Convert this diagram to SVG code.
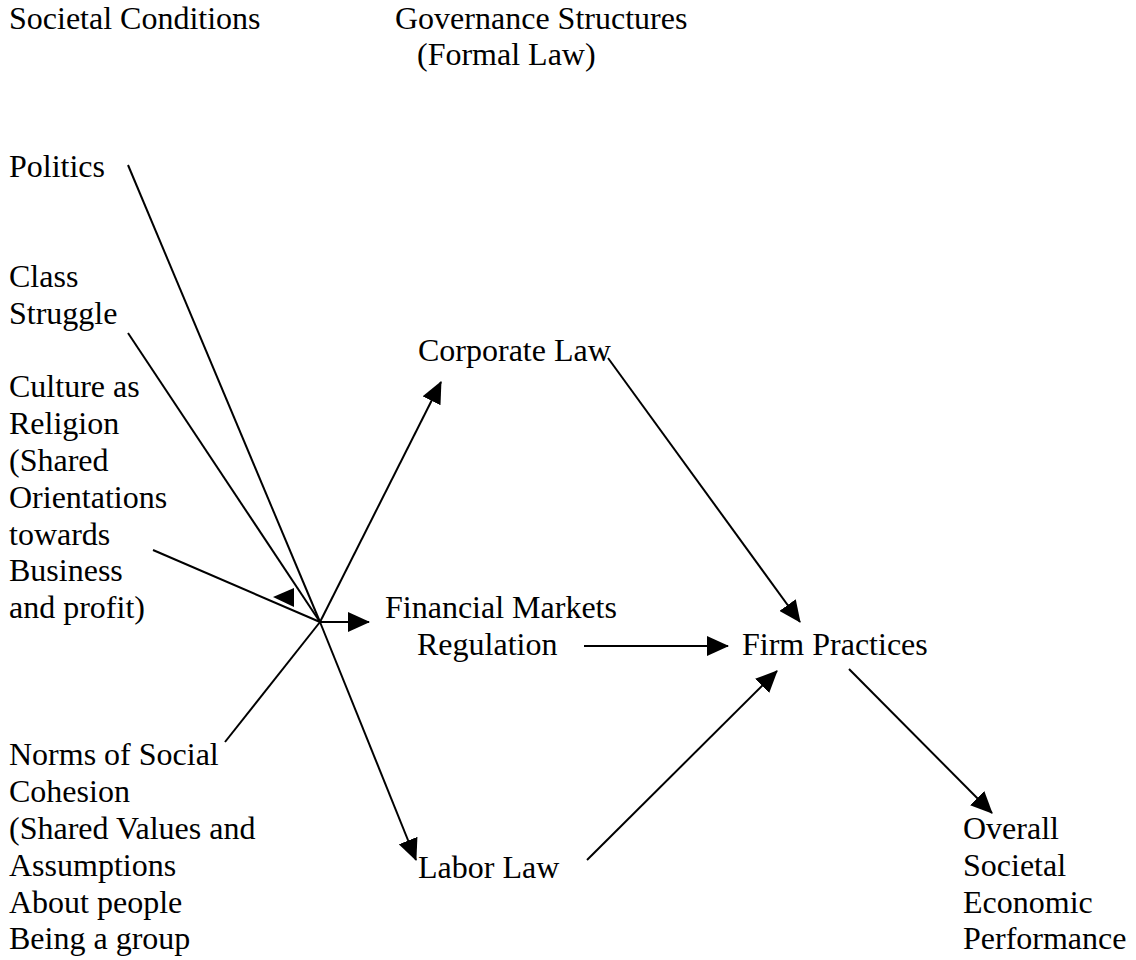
<svg xmlns="http://www.w3.org/2000/svg" width="1136" height="960" viewBox="0 0 1136 960">
<style>
text{font-family:"Liberation Serif","Times New Roman",Times,serif;font-size:32px;fill:#000}
.c line{stroke:#000;stroke-width:2;fill:none}
.a{marker-end:url(#ah)}
</style>
<defs>
<marker id="ah" markerUnits="userSpaceOnUse" markerWidth="22" markerHeight="20" refX="21" refY="10" orient="auto">
<path d="M0,0 L22,10 L0,20 z" fill="#000"/>
</marker>
</defs>
<rect width="1136" height="960" fill="#fff"/>
<g id="header-societal"><text x="9" y="28.5">Societal Conditions</text></g>
<g id="header-governance"><text x="395" y="28.5">Governance Structures</text><text x="417" y="65.3">(Formal Law)</text></g>
<g id="politics"><text x="9" y="176.6">Politics</text></g>
<g id="class-struggle"><text x="9" y="287">Class</text><text x="9" y="323.8">Struggle</text></g>
<g id="culture">
<text x="9" y="397.4">Culture as</text>
<text x="9" y="434.2">Religion</text>
<text x="9" y="471">(Shared</text>
<text x="9" y="507.8">Orientations</text>
<text x="9" y="544.6">towards</text>
<text x="9" y="581.4">Business</text>
<text x="9" y="618.2">and profit)</text>
</g>
<g id="norms">
<text x="9" y="765.4">Norms of Social</text>
<text x="9" y="802.2">Cohesion</text>
<text x="9" y="839">(Shared Values and</text>
<text x="9" y="875.8">Assumptions</text>
<text x="9" y="912.6">About people</text>
<text x="9" y="949.4">Being a group</text>
</g>
<g id="corporate-law"><text x="418" y="360.6">Corporate Law</text></g>
<g id="financial-markets"><text x="385" y="618.2">Financial Markets</text><text x="417" y="655">Regulation</text></g>
<g id="labor-law"><text x="418" y="878">Labor Law</text></g>
<g id="firm-practices"><text x="742" y="655">Firm Practices</text></g>
<g id="overall">
<text x="963" y="839">Overall</text>
<text x="963" y="875.8">Societal</text>
<text x="963" y="912.6">Economic</text>
<text x="963" y="949.4">Performance</text>
</g>
<g id="connectors" class="c">
<line x1="128" y1="165" x2="320" y2="622"/>
<line x1="128" y1="333" x2="320" y2="622"/>
<line x1="153" y1="550" x2="320" y2="622"/>
<line x1="225" y1="742" x2="320" y2="622"/>
<polygon points="273,597 294,588 294,607" fill="#000"/>
<line class="a" x1="320" y1="622" x2="416" y2="860"/>
<line class="a" x1="320" y1="622" x2="441" y2="382"/>
<line class="a" x1="320" y1="622" x2="369" y2="622"/>
<line class="a" x1="608" y1="358" x2="800" y2="622"/>
<line class="a" x1="584" y1="646" x2="728" y2="646"/>
<line class="a" x1="587" y1="860" x2="777" y2="671"/>
<line class="a" x1="849" y1="669" x2="992" y2="813"/>
</g>
</svg>
